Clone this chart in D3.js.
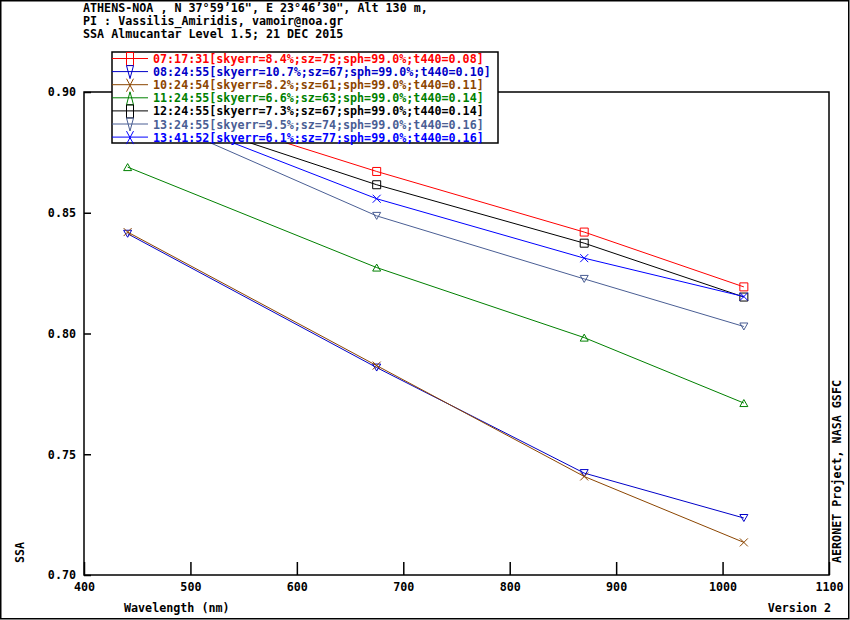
<!DOCTYPE html>
<html>
<head>
<meta charset="utf-8">
<script src="https://cdn.jsdelivr.net/npm/d3@7"></script>
<style>
  body { margin: 0; background: #fff; }
  svg text { font-family: "DejaVu Sans Mono", "Liberation Mono", monospace; font-weight: bold; font-size: 11.7px; }
</style>
</head>
<body>
<div id="chart"></div>
<script>
// data
var wavelengths = [441, 675, 870, 1020];

var titleLines = [
  "ATHENS-NOA , N 37\u00b059\u201916\", E 23\u00b046\u201930\", Alt 130 m,",
  "PI : Vassilis_Amiridis, vamoir@noa.gr",
  "SSA Almucantar Level 1.5; 21 DEC 2015"
];

var seriesLabels = [
  "07:17:31[skyerr=8.4%;sz=75;sph=99.0%;t440=0.08]",
  "08:24:55[skyerr=10.7%;sz=67;sph=99.0%;t440=0.10]",
  "10:24:54[skyerr=8.2%;sz=61;sph=99.0%;t440=0.11]",
  "11:24:55[skyerr=6.6%;sz=63;sph=99.0%;t440=0.14]",
  "12:24:55[skyerr=7.3%;sz=67;sph=99.0%;t440=0.14]",
  "13:24:55[skyerr=9.5%;sz=74;sph=99.0%;t440=0.16]",
  "13:41:52[skyerr=6.1%;sz=77;sph=99.0%;t440=0.16]"
];

var ssa0717 = [0.8996, 0.8671, 0.8420, 0.8193];
var ssa0824 = [0.8413, 0.7859, 0.7422, 0.7236];
var ssa1024 = [0.8420, 0.7867, 0.7408, 0.7135];
var ssa1124 = [0.8689, 0.8273, 0.7983, 0.7712];
var ssa1224 = [0.8957, 0.8616, 0.8374, 0.8151];
var ssa1324 = [0.8940, 0.8487, 0.8226, 0.8029];
var ssa1341 = [0.8959, 0.8558, 0.8312, 0.8153];

var seriesValues = [ssa0717, ssa0824, ssa1024, ssa1124, ssa1224, ssa1324, ssa1341];
var seriesColors = ["#ff0000", "#0000c8", "#8b4500", "#008000", "#000000", "#4a5e94", "#0000ff"];
var seriesSymbols = ["square", "tridown", "x", "triup", "square", "tridown", "x"];

var xTicks = [400, 500, 600, 700, 800, 900, 1000, 1100];
var yTicks = [0.70, 0.75, 0.80, 0.85, 0.90];

// layout (plotTop etc. - "top" is taken by window.top)
var width = 850, height = 620;
var plotLeft = 84, plotRight = 829, plotTop = 92, plotBottom = 575;

var svg = d3.select("#chart").append("svg")
  .attr("width", width)
  .attr("height", height);

// outer frame
svg.append("rect")
  .attr("x", 0.75).attr("y", 0.75)
  .attr("width", width - 2).attr("height", height - 2)
  .attr("fill", "none").attr("stroke", "#000").attr("stroke-width", 1.5);

var x = d3.scaleLinear().domain([400, 1100]).range([plotLeft, plotRight]);
var y = d3.scaleLinear().domain([0.70, 0.90]).range([plotBottom, plotTop]);

// title
svg.selectAll("text.title")
  .data(titleLines)
  .enter().append("text")
  .attr("class", "title")
  .attr("x", 83)
  .attr("y", function (d, i) { return 12 + i * 13; })
  .text(function (d) { return d; });

// axes
var xAxis = svg.append("g")
  .attr("transform", "translate(0," + plotBottom + ")")
  .call(d3.axisBottom(x).tickValues(xTicks).tickSize(-13).tickPadding(8).tickFormat(d3.format("d")));
var yAxis = svg.append("g")
  .attr("transform", "translate(" + plotLeft + ",0)")
  .call(d3.axisLeft(y).tickValues(yTicks).tickSize(-7).tickPadding(8).tickFormat(d3.format(".2f")));

[xAxis, yAxis].forEach(function (g) {
  g.attr("font-family", null).attr("font-size", null);
  g.select(".domain").remove();
  g.selectAll("line").attr("stroke", "#000").attr("stroke-width", 1.5);
  g.selectAll("text").attr("fill", "#000");
});

// plot frame
svg.append("rect")
  .attr("x", plotLeft).attr("y", plotTop)
  .attr("width", plotRight - plotLeft).attr("height", plotBottom - plotTop)
  .attr("fill", "none").attr("stroke", "#000").attr("stroke-width", 1.5);

svg.append("clipPath").attr("id", "plotclip")
  .append("rect")
  .attr("x", plotLeft).attr("y", plotTop)
  .attr("width", plotRight - plotLeft).attr("height", plotBottom - plotTop);

// symbol paths, w/h are half sizes
function symbolPath(type, w, h) {
  if (type === "square") return "M" + (-w) + "," + (-h) + "H" + w + "V" + h + "H" + (-w) + "Z";
  if (type === "tridown") return "M" + (-w) + "," + (-h) + "H" + w + "L0," + h + "Z";
  if (type === "triup") return "M" + (-w) + "," + h + "H" + w + "L0," + (-h) + "Z";
  return "M" + (-w) + "," + (-h) + "L" + w + "," + h + "M" + w + "," + (-h) + "L" + (-w) + "," + h;
}

var line = d3.line()
  .x(function (d, i) { return x(wavelengths[i]); })
  .y(function (d) { return y(d); });

var plot = svg.append("g").attr("clip-path", "url(#plotclip)");

seriesValues.forEach(function (vals, s) {
  var g = plot.append("g");
  g.append("path")
    .datum(vals)
    .attr("d", line)
    .attr("fill", "none")
    .attr("stroke", seriesColors[s])
    .attr("stroke-width", 1);
  g.selectAll("path.mark")
    .data(vals)
    .enter().append("path")
    .attr("class", "mark")
    .attr("transform", function (d, i) { return "translate(" + x(wavelengths[i]) + "," + y(d) + ")"; })
    .attr("d", symbolPath(seriesSymbols[s], 4, seriesSymbols[s] === "square" || seriesSymbols[s] === "x" ? 4 : 3.5))
    .attr("fill", "none")
    .attr("stroke", seriesColors[s])
    .attr("stroke-width", 1);
});

// legend
var legend = svg.append("g");
legend.append("rect")
  .attr("x", 112).attr("y", 52)
  .attr("width", 386).attr("height", 91)
  .attr("fill", "#fff").attr("stroke", "#000").attr("stroke-width", 1.5);

var rows = legend.selectAll("g.row")
  .data(seriesLabels)
  .enter().append("g")
  .attr("class", "row")
  .attr("transform", function (d, i) { return "translate(0," + (58.5 + i * 13.1) + ")"; });

rows.append("line")
  .attr("x1", 112).attr("x2", 148)
  .attr("stroke", function (d, i) { return seriesColors[i]; });
rows.append("path")
  .attr("transform", "translate(130,0.5)")
  .attr("d", function (d, i) { return symbolPath(seriesSymbols[i], 3.5, 6.5); })
  .attr("fill", "none")
  .attr("stroke", function (d, i) { return seriesColors[i]; });
rows.append("text")
  .attr("x", 153)
  .attr("y", 4.5)
  .attr("fill", function (d, i) { return seriesColors[i]; })
  .text(function (d) { return d; });

// axis titles and notes
svg.append("text")
  .attr("x", 124).attr("y", 612)
  .text("Wavelength (nm)");
svg.append("text")
  .attr("transform", "translate(24,563) rotate(-90)")
  .text("SSA");
svg.append("text")
  .attr("transform", "translate(841,563) rotate(-90)")
  .text("AERONET Project, NASA GSFC");
svg.append("text")
  .attr("x", 831).attr("y", 612)
  .attr("text-anchor", "end")
  .text("Version 2");
</script>
</body>
</html>
